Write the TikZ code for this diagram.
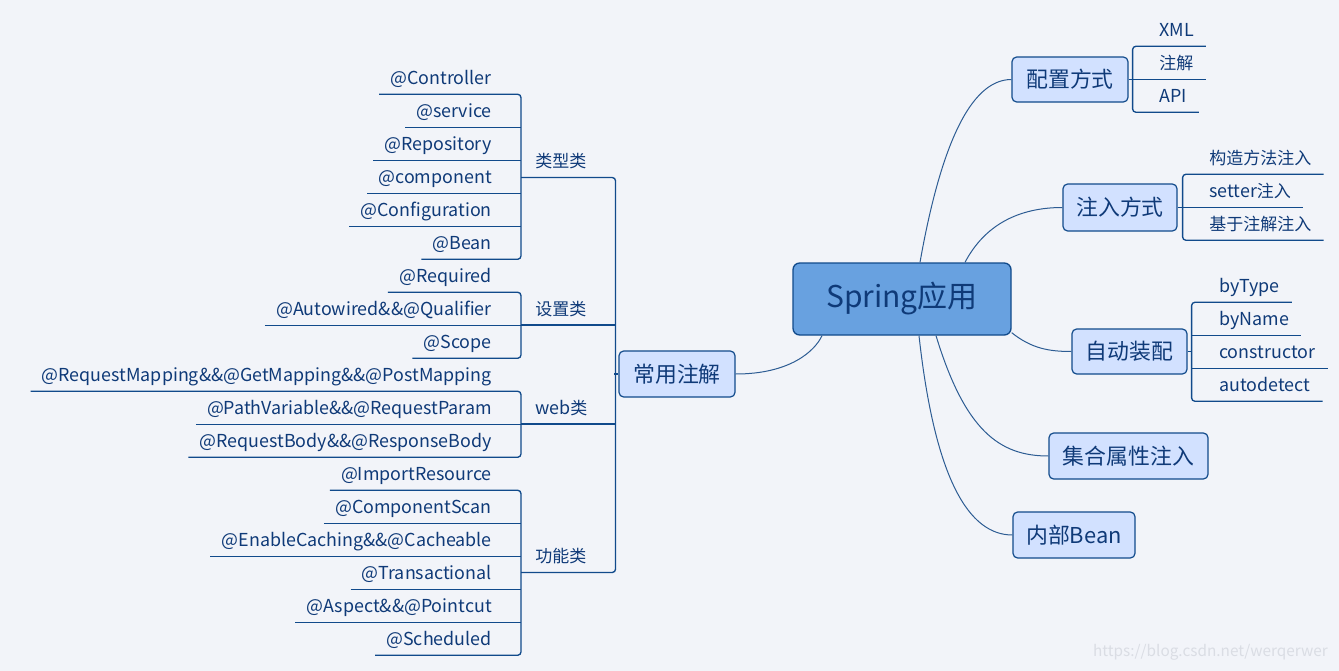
\documentclass[tikz,border=0pt]{standalone}
\usepackage{fontspec}
\setmainfont{Noto Sans CJK SC}
\definecolor{bg}{HTML}{F2F4F9}
\definecolor{ln}{HTML}{114A8B}
\definecolor{tx}{HTML}{0F3A78}
\definecolor{boxf}{HTML}{D2E1FF}
\definecolor{rootf}{HTML}{68A1E0}
\definecolor{cvc}{HTML}{2D5C93}
\definecolor{wm}{HTML}{DADDE4}
\newcommand\zh[1]{{\fontsize{12.75}{14}\selectfont #1}}
\begin{document}
\begin{tikzpicture}[x=0.75pt,y=-0.75pt,
  topic/.style={draw=ln, fill=boxf, rounded corners=3.5pt, line width=0.9pt, text=tx,
    font=\fontsize{16.4}{18}\selectfont, inner sep=0pt},
  rootbox/.style={draw=ln, fill=rootf, rounded corners=5pt, line width=1pt, text=tx,
    font=\fontsize{22.5}{26}\selectfont, inner sep=0pt,
    minimum width=163.5pt, minimum height=54pt},
  leaf/.style={inner xsep=0pt, inner ysep=0pt, minimum height=24pt, text height=13pt,
    text depth=3pt, text=tx, font=\fontsize{13.4}{15}\selectfont},
  leafL/.style={leaf, anchor=east},
  leafR/.style={leaf, anchor=west},
  cat/.style={leaf, anchor=south west, minimum width=70.5pt, text width=70.5pt, align=left},
  br/.style={draw=ln, line width=1pt, rounded corners=2.5pt},
  cv/.style={draw=cvc, line width=0.75pt}]
\fill[bg] (0,0) rectangle (1339,671);
\useasboundingbox (0,0) rectangle (1339,671);

% central topic
\node[rootbox] (root) at (902,299) {Spring应用};

% main topics
\node[topic, minimum width=87pt, minimum height=33.75pt] (pz) at (1070,79.5) {配置方式};
\node[topic, minimum width=85.5pt, minimum height=35.25pt] (zr) at (1120,207.5) {注入方式};
\node[topic, minimum width=86.25pt, minimum height=33.75pt] (zd) at (1129.5,351.5) {自动装配};
\node[topic, minimum width=119.25pt, minimum height=34.5pt] (jh) at (1128.5,456) {集合属性注入};
\node[topic, minimum width=91.5pt, minimum height=34.5pt] (nb) at (1074,535) {内部Bean};
\node[topic, minimum width=87pt, minimum height=34.5pt] (cy) at (677,374) {常用注解};

% curves from central topic
\draw[cv] ([xshift=13.5pt]root.north) .. controls +(20,-113) and +(-42,0) .. (pz.west);
\draw[cv] ([xshift=47.25pt]root.north) .. controls +(20,-38) and +(-43,0) .. (zr.west);
\draw[cv] ([yshift=2.25pt]root.south east) .. controls +(20,16) and +(-22,0) .. (zd.west);
\draw[cv] ([xshift=25.5pt]root.south) .. controls +(29,95) and +(-49,0) .. (jh.west);
\draw[cv] ([xshift=12.75pt]root.south) .. controls +(16,145) and +(-43,0) .. (nb.west);
\draw[cv] (cy.east) .. controls +(55,0) and +(-7,15) .. ([xshift=-60pt]root.south);

% ---------- right leaves ----------
% 配置方式
\node[leafR] (x1) at (1159,30) {XML};
\node[leafR] (x2) at (1159,63) {\zh{注解}};
\node[leafR] (x3) at (1159,96) {API};
\coordinate (pzB) at ([xshift=3pt]pz.east);
\draw[br] ([xshift=9pt]x1.south east) -- (x1.south -| pzB) -- (x3.south -| pzB) -- ([xshift=9pt]x3.south east);
\draw[br] (x2.south -| pzB) -- ([xshift=9pt]x2.south east);
\draw[br] (pz.east) -- (pzB);

% 注入方式
\node[leafR] (y1) at (1209,158) {\zh{构造方法注入}};
\node[leafR] (y2) at (1209,191) {setter\zh{注入}};
\node[leafR] (y3) at (1209,224) {\zh{基于注解注入}};
\coordinate (zrB) at ([xshift=3.75pt]zr.east);
\draw[br] ([xshift=9pt]y1.south east) -- (y1.south -| zrB) -- (y3.south -| zrB) -- ([xshift=9pt]y3.south east);
\draw[br] (y2.south -| zrB) -- ([xshift=9pt]y2.south east);
\draw[br] (zr.east) -- (zrB);

% 自动装配
\node[leafR] (w1) at (1219,286) {byType};
\node[leafR] (w2) at (1219,319) {byName};
\node[leafR] (w3) at (1219,352) {constructor};
\node[leafR] (w4) at (1219,385) {autodetect};
\coordinate (zdB) at ([xshift=3pt]zd.east);
\draw[br] ([xshift=9pt]w1.south east) -- (w1.south -| zdB) -- (w4.south -| zdB) -- ([xshift=9pt]w4.south east);
\draw[br] (w2.south -| zdB) -- ([xshift=9pt]w2.south east);
\draw[br] (w3.south -| zdB) -- ([xshift=9pt]w3.south east);
\draw[br] (zd.east) -- (zdB);

% ---------- left side ----------
\node[cat] (ca) at (521,177.5) {\hspace*{10.5pt}\zh{类型类}};
\node[cat] (cb) at (521,325) {\hspace*{10.5pt}\zh{设置类}};
\node[cat] (cc) at (521,424) {\hspace*{10.5pt}web\zh{类}};
\node[cat] (cd) at (521,572.5) {\hspace*{10.5pt}\zh{功能类}};
\coordinate (cyB) at ([xshift=-3pt]cy.west);
\draw[br] (ca.south west) -- (ca.south east) -- (cd.south east) -- (cd.south west);
\draw[br] (cb.south west) -- (cb.south east);
\draw[br] (cc.south west) -- (cc.south east);
\draw[br] (cyB) -- (cy.west);

% 类型类
\node[leafL] (a1) at (492,78) {@Controller};
\node[leafL] (a2) at (492,111) {@service};
\node[leafL] (a3) at (492,144) {@Repository};
\node[leafL] (a4) at (492,177) {@component};
\node[leafL] (a5) at (492,210) {@Configuration};
\node[leafL] (a6) at (492,243) {@Bean};
\draw[br] ([xshift=-8.25pt]a1.south west) -- (a1.south -| ca.south west) -- (a6.south -| ca.south west) -- ([xshift=-8.25pt]a6.south west);
\foreach \n in {a2,a3,a4,a5}
  \draw[br] ([xshift=-8.25pt]\n.south west) -- (\n.south -| ca.south west);

% 设置类
\node[leafL] (b1) at (492,276) {@Required};
\node[leafL] (b2) at (492,309) {@Autowired\&\&@Qualifier};
\node[leafL] (b3) at (492,342) {@Scope};
\draw[br] ([xshift=-8.25pt]b1.south west) -- (b1.south -| cb.south west) -- (b3.south -| cb.south west) -- ([xshift=-8.25pt]b3.south west);
\draw[br] ([xshift=-8.25pt]b2.south west) -- (b2.south -| cb.south west);

% web类
\node[leafL] (c1) at (492,375) {@RequestMapping\&\&@GetMapping\&\&@PostMapping};
\node[leafL] (c2) at (492,408) {@PathVariable\&\&@RequestParam};
\node[leafL] (c3) at (492,441) {@RequestBody\&\&@ResponseBody};
\draw[br] ([xshift=-8.25pt]c1.south west) -- (c1.south -| cc.south west) -- (c3.south -| cc.south west) -- ([xshift=-8.25pt]c3.south west);
\draw[br] ([xshift=-8.25pt]c2.south west) -- (c2.south -| cc.south west);

% 功能类
\node[leafL] (d1) at (492,474) {@ImportResource};
\node[leafL] (d2) at (492,507) {@ComponentScan};
\node[leafL] (d3) at (492,540) {@EnableCaching\&\&@Cacheable};
\node[leafL] (d4) at (492,573) {@Transactional};
\node[leafL] (d5) at (492,606) {@Aspect\&\&@Pointcut};
\node[leafL] (d6) at (492,639) {@Scheduled};
\draw[br] ([xshift=-8.25pt]d1.south west) -- (d1.south -| cd.south west) -- (d6.south -| cd.south west) -- ([xshift=-8.25pt]d6.south west);
\foreach \n in {d2,d3,d4,d5}
  \draw[br] ([xshift=-8.25pt]\n.south west) -- (\n.south -| cd.south west);

% watermark
\node[anchor=east, text=wm, inner sep=0pt, font=\fontsize{11.5}{13}\selectfont] (wmk) at (1328,652) {https://blog.csdn.net/werqerwer};
\end{tikzpicture}
\end{document}
